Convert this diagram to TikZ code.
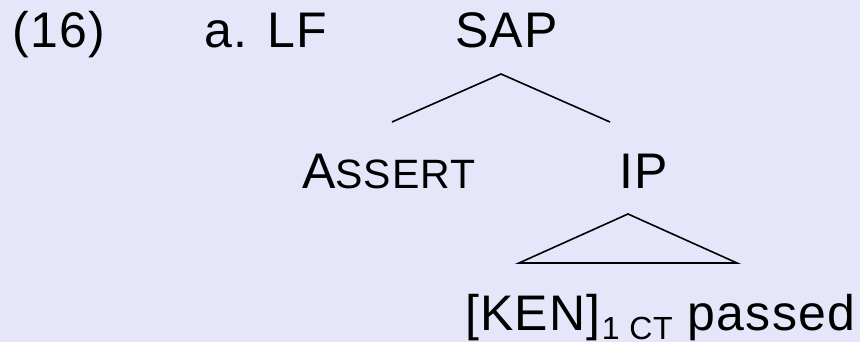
\documentclass[tikz,border=0pt]{standalone}
\usepackage{fontspec}
\setmainfont[LetterSpace=2.5]{Liberation Sans}
\definecolor{paper}{RGB}{230,230,250}
\begin{document}
\begin{tikzpicture}[x=1pt,y=-1pt,
  lbl/.style={inner sep=0pt, anchor=base west, font=\fontsize{50}{60}\selectfont},
  branch/.style={line width=1.6pt, line cap=butt, line join=miter}]
\fill[paper] (0,0) rectangle (860,342);
\useasboundingbox (0,0) rectangle (860,342);

% example number and label
\node[lbl] (num) at (12,48) {(16)};
\node[lbl] (lf) at (204,48) {a. LF};

% tree nodes
\node[lbl] (sap) at (455,48) {SAP};
\node[lbl] (assert) at (302,189) {A{\fontsize{41}{45}\selectfont SSERT}};
\node[lbl] (ip) at (619,189) {IP};
\node[lbl] (leaf) at (465,330) {[KEN]\kern1pt\raisebox{-9pt}{\fontsize{32}{36}\selectfont 1 CT} passed};

% branch points
\coordinate (sapTop) at (501,74);
\coordinate (sapL) at (392,122);
\coordinate (sapR) at (610,122);
\coordinate (ipTop) at (628,214);
\coordinate (ipL) at (519,263);
\coordinate (ipR) at (737,263);

\draw[branch] (sapL) -- (sapTop) -- (sapR);
\draw[branch] (ipTop) -- (ipL) -- (ipR) -- cycle;
\end{tikzpicture}
\end{document}
